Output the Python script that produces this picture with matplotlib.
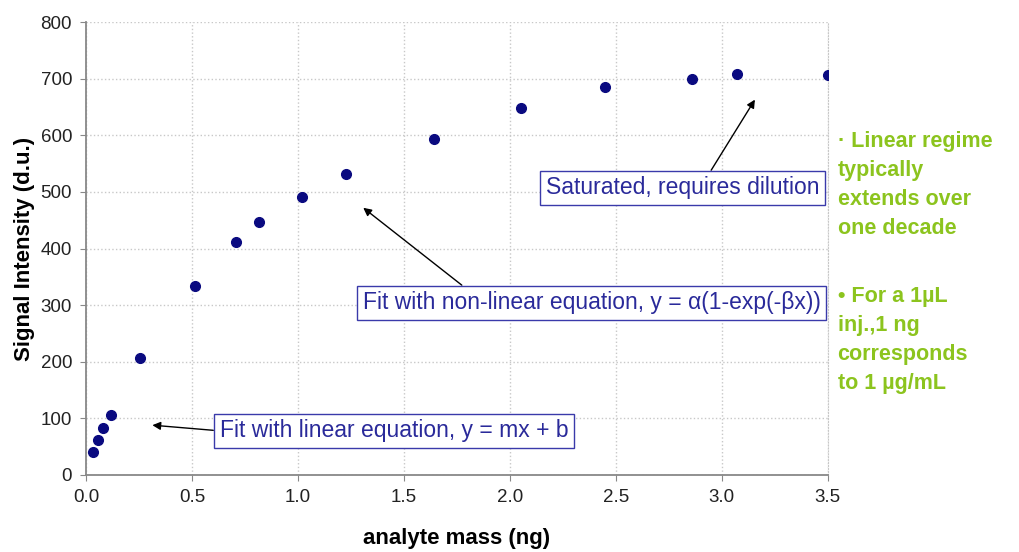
import matplotlib
matplotlib.use("Agg")
import matplotlib.pyplot as plt

plt.rcParams['font.family'] = ['Liberation Sans', 'DejaVu Sans']

# data
mass = [0.033, 0.057, 0.08, 0.118, 0.256, 0.512, 0.71, 0.815, 1.02, 1.227,
        1.64, 2.05, 2.45, 2.86, 3.07, 3.5]
signal = [40, 62, 83, 106, 206, 334, 411, 447, 491, 531,
          594, 649, 685, 699, 709, 706]

xticks = [0.0, 0.5, 1.0, 1.5, 2.0, 2.5, 3.0, 3.5]
yticks = [0, 100, 200, 300, 400, 500, 600, 700, 800]

# text, arrow tip, text position, where the arrow leaves the box
notes = [
    ("Fit with linear equation, y = mx + b", (0.313, 88), (0.63, 78), (0.0, 0.5)),
    ("Fit with non-linear equation, y = \u03b1(1-exp(-\u03b2x))", (1.308, 472), (1.305, 304), (0.234, 1.0)),
    ("Saturated, requires dilution", (3.156, 663), (2.17, 507), (0.59, 1.0)),
]

side_notes = [
    "\u00b7 Linear regime\ntypically\nextends over\none decade",
    "\u2022 For a 1\u00b5L\ninj.,1 ng\ncorresponds\nto 1 \u00b5g/mL",
]

fig = plt.figure(figsize=(10.19, 5.52), dpi=100)
ax = fig.add_axes([0.0844, 0.1395, 0.728, 0.8205])

ax.plot(mass, signal, 'o', color='#0a0a80', markersize=7, zorder=3)

ax.set_xlim(0, 3.5)
ax.set_ylim(0, 800)
ax.set_xticks(xticks)
ax.set_xticklabels(['%.1f' % t for t in xticks])
ax.set_yticks(yticks)
ax.tick_params(labelsize=13.5, colors='#222222', length=4, color='#888888', pad=6)
ax.grid(True, color='#c8c8c8', linestyle=':', linewidth=1)
ax.spines['top'].set_visible(False)
ax.spines['right'].set_color('#c8c8c8')
ax.spines['right'].set_linestyle(':')
ax.spines['left'].set_color('#888888')
ax.spines['bottom'].set_color('#888888')
ax.spines['left'].set_linewidth(1.3)
ax.spines['bottom'].set_linewidth(1.3)

ax.set_xlabel('analyte mass (ng)', fontsize=16, fontweight='bold', labelpad=16)
ax.set_ylabel('Signal Intensity (d.u.)', fontsize=16, fontweight='bold', labelpad=4)

for txt, tip, pos, rel in notes:
    ax.annotate(txt, xy=tip, xytext=pos, fontsize=16.5, color='#2a2a9a',
                ha='left', va='center',
                bbox=dict(boxstyle='square,pad=0.25', fc='white', ec='#3a3aaa', lw=1),
                arrowprops=dict(arrowstyle='-|>', color='black', lw=1, mutation_scale=12,
                                shrinkA=0, shrinkB=0, relpos=rel))

for txt, top in zip(side_notes, [0.763, 0.482]):
    fig.text(0.822, top, txt, fontsize=15.5, fontweight='bold', color='#8cc41e',
             ha='left', va='top', linespacing=1.5)

fig.savefig('out.png', dpi=100)
